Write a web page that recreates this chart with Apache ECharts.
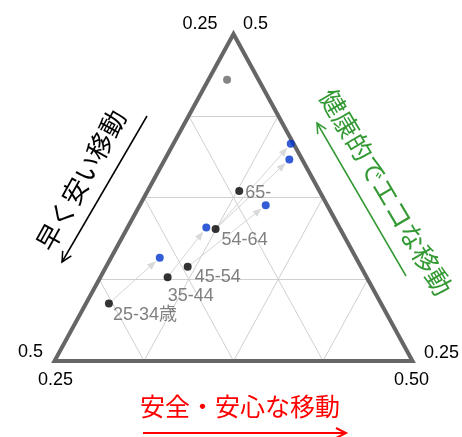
<!DOCTYPE html>
<html>
<head>
<meta charset="utf-8">
<script src="https://cdn.jsdelivr.net/npm/echarts@6/dist/echarts.min.js"></script>
<style>
  html, body { margin: 0; padding: 0; background: #fff; }
  #chart { width: 462px; height: 437px; }
</style>
</head>
<body>
<div id="chart"></div>
<script>
// Three-part share of travel values; each share runs from 0.25 to 0.5.
// A: lower-left corner, B: top corner, C: lower-right corner.
const axisNames = ['早く安い移動', '健康的でエコな移動', '安全・安心な移動'];
const axisMin = 0.25;
const axisMax = 0.5;
const gridValues = [0.3125, 0.375, 0.4375];
const topTicks = ['0.25', '0.5'];
const leftTicks = ['0.5', '0.25'];
const rightTicks = ['0.25', '0.50'];

// Age groups (black) and their later positions (blue)
const ageGroups = ['25-34歳', '35-44', '45-54', '54-64', '65-'];
const blackA = [0.440, 0.389, 0.371, 0.337, 0.306];
const blackB = [0.294, 0.314, 0.322, 0.351, 0.380];
const blackC = [0.266, 0.297, 0.307, 0.312, 0.314];
const blueA = [0.387, 0.343, 0.293, 0.259, 0.252];
const blueB = [0.329, 0.352, 0.369, 0.404, 0.416];
const blueC = [0.284, 0.305, 0.338, 0.337, 0.332];
const grayPoint = [0.272, 0.465, 0.263];
const arrowPairs = [[0, 0], [1, 1], [2, 2], [3, 3], [3, 4]];

// text placement next to each black point (left edge / vertical centre, px)
const labelOffsets = [[4, 12], [0, 19], [7, 10], [6, 11], [6, 2]];

function toXY(a, b, c) {
  const span = axisMax - axisMin;
  const bn = (b - axisMin) / span;
  const cn = (c - axisMin) / span;
  return [cn + bn / 2, bn];
}

function isoLine(k, v) {
  const rest = 1 - v - axisMin;
  const others = [0, 1, 2].filter(i => i !== k);
  const p1 = [0, 0, 0], p2 = [0, 0, 0];
  p1[k] = v; p2[k] = v;
  p1[others[0]] = axisMin; p1[others[1]] = rest;
  p2[others[0]] = rest; p2[others[1]] = axisMin;
  return [toXY(p1[0], p1[1], p1[2]), toXY(p2[0], p2[1], p2[2])];
}

const corners = [
  toXY(axisMax, axisMin, axisMin), // lower-left
  toXY(axisMin, axisMin, axisMax), // lower-right
  toXY(axisMin, axisMax, axisMin)  // top
];

const gridLines = [];
[0, 1, 2].forEach(k => gridValues.forEach(v => gridLines.push({ coords: isoLine(k, v) })));

const blackXY = ageGroups.map((_, i) => toXY(blackA[i], blackB[i], blackC[i]));
const blueXY = blueA.map((_, i) => toXY(blueA[i], blueB[i], blueC[i]));
const grayXY = toXY(grayPoint[0], grayPoint[1], grayPoint[2]);

const numFont = '"Liberation Sans", Arial, "Noto Sans CJK JP", sans-serif';
const jpFont = '"Noto Sans CJK JP", sans-serif';

const chart = echarts.init(document.getElementById('chart'), null, { renderer: 'canvas' });

chart.setOption({
  animation: false,
  backgroundColor: '#fff',
  grid: { left: 54.5, top: 34, width: 358, height: 327 },
  xAxis: { type: 'value', min: 0, max: 1, show: false },
  yAxis: { type: 'value', min: 0, max: 1, show: false },
  series: [
    {
      type: 'lines',
      coordinateSystem: 'cartesian2d',
      silent: true,
      z: 1,
      lineStyle: { color: '#d0d0d0', width: 1, opacity: 1 },
      data: gridLines
    },
    {
      type: 'custom',
      silent: true,
      z: 2,
      data: [[0, 0]],
      renderItem: function (params, api) {
        return {
          type: 'polygon',
          shape: { points: corners.map(p => api.coord(p)) },
          style: { fill: 'none', stroke: '#666666', lineWidth: 4, lineJoin: 'miter' }
        };
      }
    },
    {
      type: 'custom',
      silent: true,
      z: 3,
      encode: { x: [0, 2], y: [1, 3] },
      data: arrowPairs.map(([i, j]) => [blackXY[i][0], blackXY[i][1], blueXY[j][0], blueXY[j][1]]),
      renderItem: function (params, api) {
        const p1 = api.coord([api.value(0), api.value(1)]);
        const p2 = api.coord([api.value(2), api.value(3)]);
        const dx = p2[0] - p1[0], dy = p2[1] - p1[1];
        const len = Math.sqrt(dx * dx + dy * dy);
        const ux = dx / len, uy = dy / len;
        const tip = [p2[0] - ux * 5, p2[1] - uy * 5];
        const base = [tip[0] - ux * 9, tip[1] - uy * 9];
        const nx = -uy * 3.5, ny = ux * 3.5;
        return {
          type: 'group',
          children: [
            { type: 'line', shape: { x1: p1[0], y1: p1[1], x2: base[0], y2: base[1] },
              style: { stroke: '#d6d6d6', lineWidth: 1 } },
            { type: 'polygon', shape: { points: [tip, [base[0] + nx, base[1] + ny], [base[0] - nx, base[1] - ny]] },
              style: { fill: '#d9d9d9' } }
          ]
        };
      }
    },
    {
      type: 'scatter',
      z: 4,
      symbolSize: 8,
      itemStyle: { color: '#666666' },
      data: [grayXY]
    },
    {
      type: 'scatter',
      z: 5,
      symbolSize: 8,
      itemStyle: { color: '#0033cc' },
      data: blueXY
    },
    {
      type: 'scatter',
      z: 5,
      symbolSize: 8,
      itemStyle: { color: '#000000' },
      label: {
        show: true,
        position: 'right',
        distance: 0,
        color: '#606060',
        fontSize: 18,
        fontFamily: numFont,
        formatter: p => p.name
      },
      data: ageGroups.map((name, i) => ({
        name: name,
        value: blackXY[i],
        label: { offset: [labelOffsets[i][0] - 4, labelOffsets[i][1]] }
      }))
    }
  ]
});

// corner tick labels and axis titles
const px = corners.map(c => chart.convertToPixel({ gridIndex: 0 }, c));
const [bl, br, tp] = px;

function tick(text, x, y) {
  return { type: 'text', x: x, y: y, z: 10,
    style: { text: text, font: '18px ' + numFont, fill: '#000', align: 'center', verticalAlign: 'middle' } };
}

function arrow(x1, y1, x2, y2, color, width) {
  const dx = x2 - x1, dy = y2 - y1;
  const len = Math.sqrt(dx * dx + dy * dy);
  const ux = dx / len, uy = dy / len;
  const h = 10, w = 5;
  return {
    type: 'group', z: 10,
    children: [
      { type: 'line', shape: { x1: x1, y1: y1, x2: x2, y2: y2 }, style: { stroke: color, lineWidth: width } },
      { type: 'polyline', shape: { points: [
          [x2 - ux * h - uy * w, y2 - uy * h + ux * w], [x2, y2], [x2 - ux * h + uy * w, y2 - uy * h - ux * w]] },
        style: { stroke: color, lineWidth: width, fill: 'none' } }
    ]
  };
}

function title(text, x, y, rot, color, size) {
  return { type: 'text', x: x, y: y, rotation: rot, z: 10,
    style: { text: text, font: size + 'px ' + jpFont, fill: color, align: 'center', verticalAlign: 'middle' } };
}

chart.setOption({
  graphic: [
    tick(topTicks[0], tp[0] - 33.5, tp[1] - 10),
    tick(topTicks[1], tp[0] + 22, tp[1] - 10),
    tick(leftTicks[0], bl[0] - 24, bl[1] - 9),
    tick(leftTicks[1], bl[0] + 1, bl[1] + 19),
    tick(rightTicks[0], br[0] + 29, br[1] - 8),
    tick(rightTicks[1], br[0] - 1, br[1] + 19),
    title(axisNames[0], 81, 180, 61 * Math.PI / 180, '#000000', 26),
    title(axisNames[1], 386, 192, -59.5 * Math.PI / 180, '#339933', 26),
    title(axisNames[2], 240, 406, 0, '#ff0000', 25),
    arrow(147, 116, 62, 262, '#000000', 1.5),
    arrow(406, 276, 317, 123, '#339933', 1.5),
    arrow(143, 433, 346, 433, '#ff0000', 2)
  ]
});
</script>
</body>
</html>
